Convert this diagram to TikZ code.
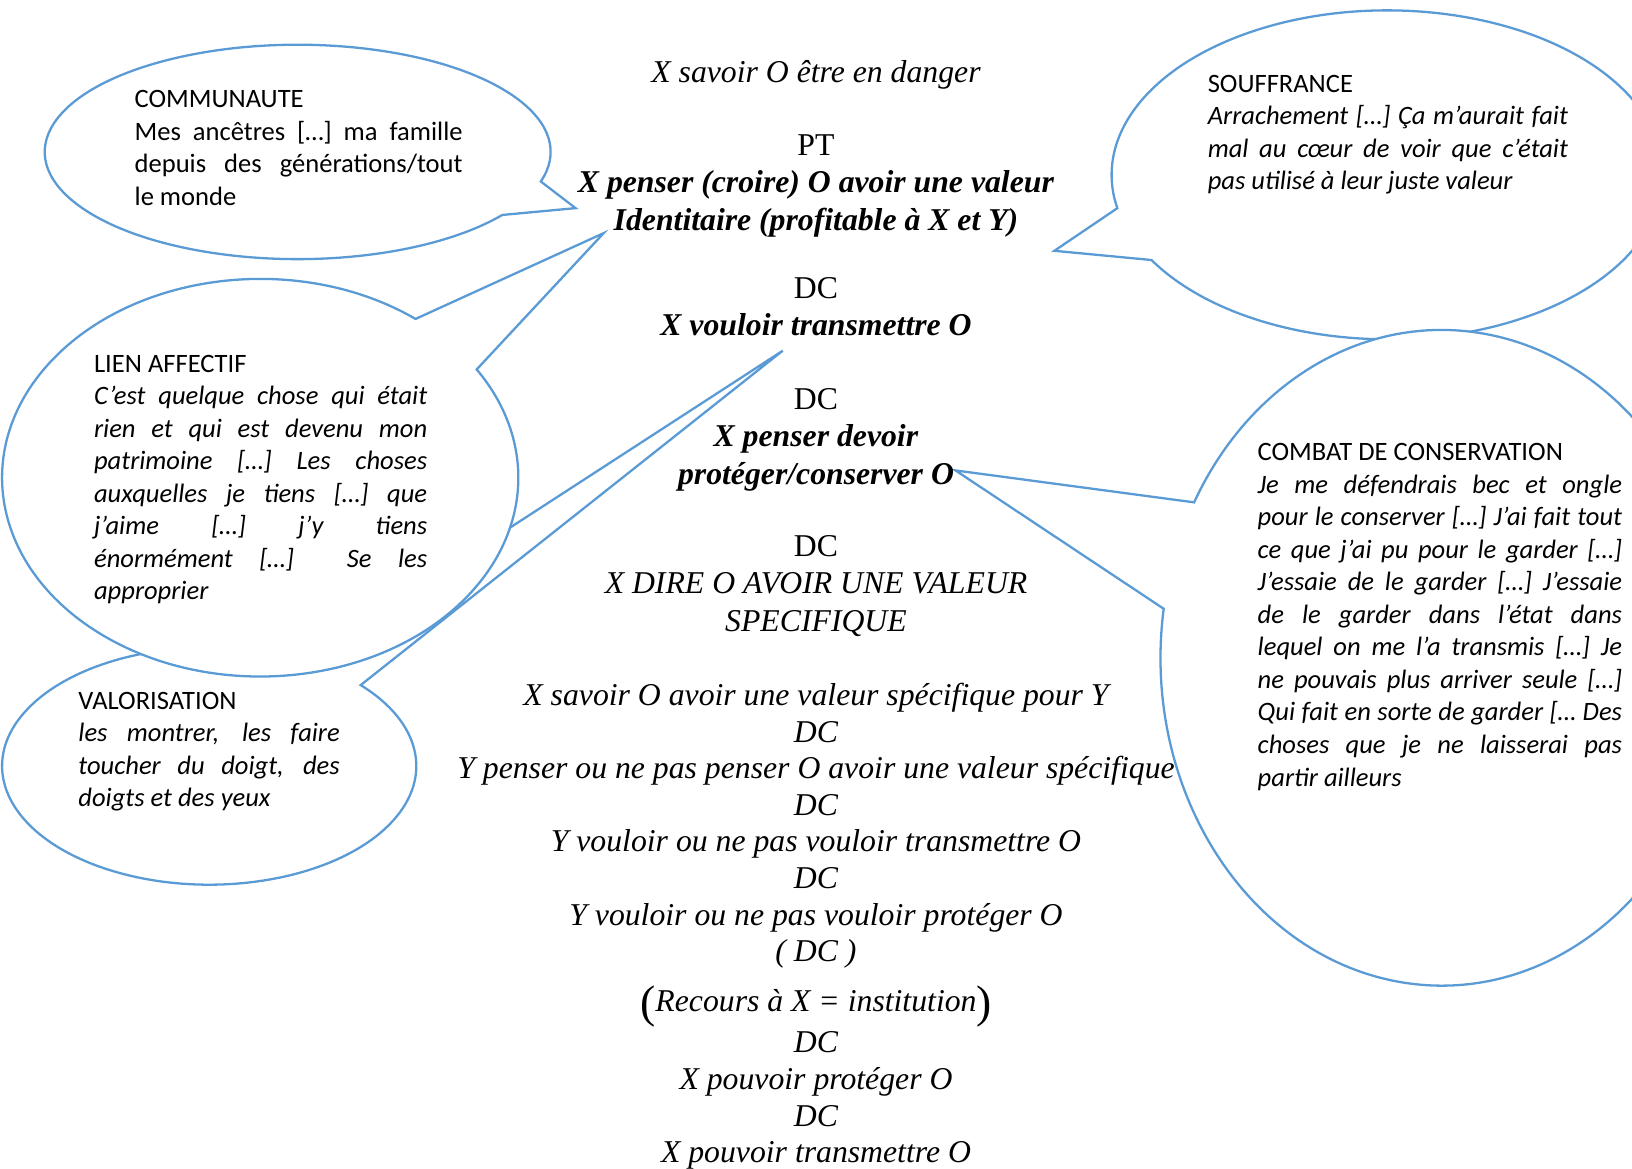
\documentclass[tikz,border=0pt]{standalone}
\usepackage{fontspec}
\setmainfont{Liberation Serif}
\newfontfamily\calibri{Carlito}
\definecolor{bulleblue}{RGB}{91,155,213}
\tikzset{
	bulle/.style={draw=bulleblue, fill=white, line width=1.1bp, line join=miter},
	citation/.style={anchor=north west, inner sep=0pt, align=justify, font=\calibri\fontsize{12.8}{15.7}\selectfont},
	schema/.style={anchor=north, inner sep=0pt, align=center, font=\fontsize{15.3}{18}\selectfont},
	suite/.style={schema, font=\fontsize{15.3}{17.65}\selectfont\itshape}
}

\begin{document}
\begin{tikzpicture}[x=0.5bp, y=0.5bp]
		\useasboundingbox (0,0) rectangle (1568,1123);
		\clip (0,0) rectangle (1568,1123);
		% centres des bulles et pointes
		\coordinate (ccom) at (286,977);   \coordinate (pcom) at (553,923);
		\coordinate (cval) at (201,387);   \coordinate (pval) at (752,786);
		\coordinate (clien) at (250,664);  \coordinate (plien) at (580,899);
		\coordinate (csouf) at (1333,955); \coordinate (psouf) at (1013,882);
		\coordinate (ccomb) at (1385,491); \coordinate (pcomb) at (918,671);
		% bulles
		\filldraw[bulle] (ccom) ++(-16:243 and 103) arc[start angle=-16, end angle=324, x radius=243, y radius=103] -- (pcom) -- cycle;
		\filldraw[bulle] (cval) ++(62.5:199 and 114) arc[start angle=62.5, end angle=403, x radius=199, y radius=114] -- (pval) -- cycle;
		\filldraw[bulle] (clien) ++(53:248 and 191) arc[start angle=53, end angle=393, x radius=248, y radius=191] -- (plien) -- cycle;
		\filldraw[bulle] (csouf) ++(211.2:265 and 158) arc[start angle=211.2, end angle=551.7, x radius=265, y radius=158] -- (psouf) -- cycle;
		\filldraw[bulle] (ccomb) ++(171.4:270 and 315) arc[start angle=171.4, end angle=511.7, x radius=270, y radius=315] -- (pcomb) -- cycle;
		% textes des bulles
		\node[citation, text width=157.5bp] (communaute) at (129,1036.5) {COMMUNAUTE\\ Mes ancêtres […] ma famille\linebreak depuis des générations/tout\linebreak le monde};
		\node[citation, text width=173bp] (souffrance) at (1160,1051.5) {SOUFFRANCE\\ \itshape Arrachement […] Ça m’aurait fait\linebreak mal au cœur de voir que c’était\linebreak pas utilisé à leur juste valeur};
		\node[citation, text width=160bp] (lien) at (90,782.5) {LIEN AFFECTIF\\ \itshape C’est quelque chose qui était\linebreak rien et qui est devenu mon\linebreak patrimoine […] Les choses\linebreak auxquelles je tiens […] que\linebreak j’aime […] j’y tiens\linebreak énormément […] \ Se les\linebreak approprier};
		\node[citation, text width=175bp] (combat) at (1208,697.5) {COMBAT DE CONSERVATION\\ \itshape Je me défendrais bec et ongle\linebreak pour le conserver […] J’ai fait tout\linebreak ce que j’ai pu pour le garder […]\linebreak J’essaie de le garder […] J’essaie\linebreak de le garder dans l’état dans\linebreak lequel on me l’a transmis […] Je\linebreak ne pouvais plus arriver seule […]\linebreak Qui fait en sorte de garder [… Des\linebreak choses que je ne laisserai pas\linebreak partir ailleurs};
		\node[citation, text width=125.5bp] (valorisation) at (75,458.5) {VALORISATION\\ \itshape les montrer, les faire\linebreak toucher du doigt, des\linebreak doigts et des yeux};
		% schema central
		\node[schema, font=\fontsize{15.3}{18}\selectfont\itshape] (danger) at (784,1065) {X savoir O être en danger};
		\node[schema] (pt) at (784,994) {PT\\ \textbf{\textit{X penser (croire) O avoir une valeur}}\\ \textbf{\textit{Identitaire (profitable à X et Y)}}};
		\node[schema] (transmettre) at (784,857) {DC\\ \textbf{\textit{X vouloir transmettre O}}};
		\node[schema] (proteger) at (784,750) {DC\\ \textbf{\textit{X penser devoir}}\\ \textbf{\textit{protéger/conserver O}}};
		\node[schema] (dire) at (784,609) {DC\\ \textit{X DIRE O AVOIR UNE VALEUR}\\ \textit{SPECIFIQUE}};
		\node[suite] (y) at (784,467) {X savoir O avoir une valeur spécifique pour Y\\ DC\\ Y penser ou ne pas penser O avoir une valeur spécifique\\ DC\\ Y vouloir ou ne pas vouloir transmettre O\\ DC\\ Y vouloir ou ne pas vouloir protéger O\\ ( DC )};
		\node[suite, anchor=base] (recours) at (784,151) {\raisebox{-3bp}{\upshape\fontsize{22}{22}\selectfont(}Recours à X = institution\raisebox{-3bp}{\upshape\fontsize{22}{22}\selectfont)}};
		\node[suite] (pouvoir) at (784,132) {DC\\ X pouvoir protéger O\\ DC\\ X pouvoir transmettre O};
	\end{tikzpicture}
\end{document}
